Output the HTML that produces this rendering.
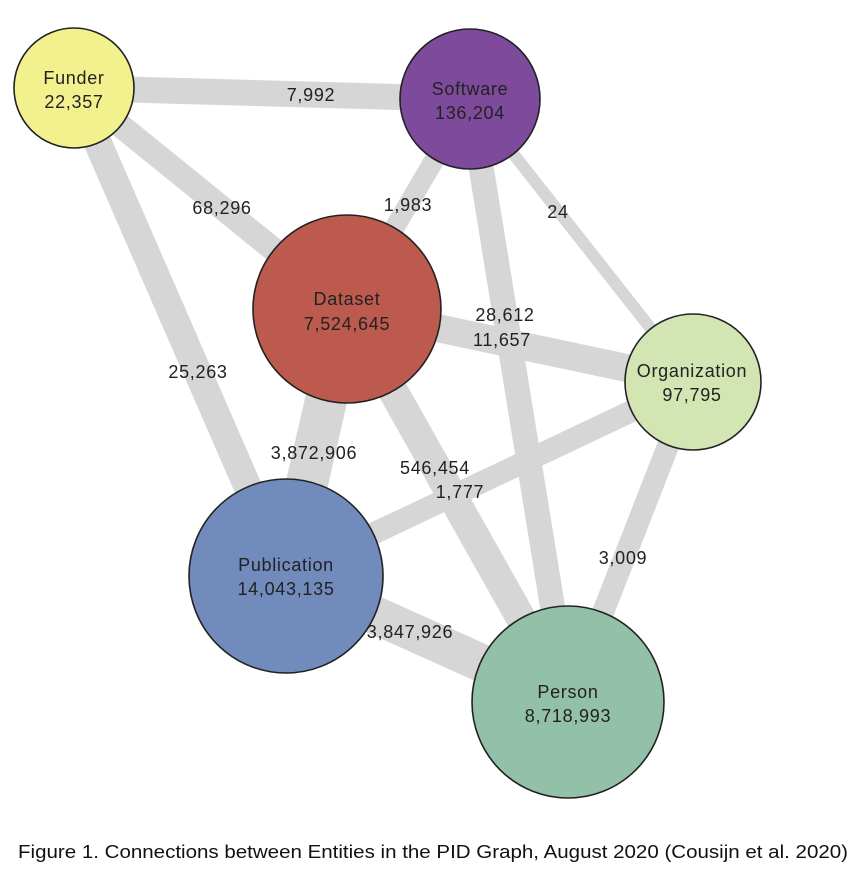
<!DOCTYPE html>
<html><head><meta charset="utf-8"><style>
html,body{margin:0;padding:0;background:#fff;}
svg{display:block;}
text{font-family:"Liberation Sans",Arial,sans-serif;fill:#222;}
</style></head><body>
<svg width="868" height="884" viewBox="0 0 868 884" xmlns="http://www.w3.org/2000/svg">
<g stroke="#d6d6d6" stroke-linecap="butt" fill="none">
<line x1="74" y1="88" x2="470" y2="99" stroke-width="26"/>
<line x1="74" y1="88" x2="347" y2="309" stroke-width="24"/>
<line x1="74" y1="88" x2="286" y2="575" stroke-width="28"/>
<line x1="470" y1="99" x2="347" y2="309" stroke-width="20"/>
<line x1="470" y1="99" x2="568" y2="702" stroke-width="25"/>
<line x1="470" y1="99" x2="693" y2="382" stroke-width="12"/>
<line x1="347" y1="309" x2="693" y2="382" stroke-width="28"/>
<line x1="347" y1="309" x2="286" y2="575" stroke-width="42"/>
<line x1="347" y1="309" x2="568" y2="702" stroke-width="30"/>
<line x1="693" y1="382" x2="286" y2="575" stroke-width="22"/>
<line x1="693" y1="382" x2="568" y2="702" stroke-width="22"/>
<line x1="286" y1="575" x2="568" y2="702" stroke-width="38"/>
</g>
<g stroke="#222" stroke-width="1.6">
<circle cx="74" cy="88" r="60" fill="#f3f08e"/>
<circle cx="470" cy="99" r="70" fill="#7e4a9b"/>
<circle cx="347" cy="309" r="94" fill="#bd5a4e"/>
<circle cx="693" cy="382" r="68" fill="#d2e5b2"/>
<circle cx="286" cy="576" r="97" fill="#728bbd"/>
<circle cx="568" cy="702" r="96" fill="#93c0a8"/>
</g>
<g font-size="18" text-anchor="middle" letter-spacing="0.7" style="fill:#1e1e1e">
<text x="74" y="84">Funder</text><text x="74" y="108">22,357</text>
<text x="470" y="95">Software</text><text x="470" y="119">136,204</text>
<text x="347" y="305">Dataset</text><text x="347" y="330">7,524,645</text>
<text x="692" y="377">Organization</text><text x="692" y="401">97,795</text>
<text x="286" y="571">Publication</text><text x="286" y="595">14,043,135</text>
<text x="568" y="698">Person</text><text x="568" y="722">8,718,993</text>
<text x="311" y="101">7,992</text>
<text x="222" y="214">68,296</text>
<text x="408" y="211">1,983</text>
<text x="558" y="218">24</text>
<text x="505" y="321">28,612</text>
<text x="502" y="346">11,657</text>
<text x="198" y="378">25,263</text>
<text x="314" y="459">3,872,906</text>
<text x="435" y="474">546,454</text>
<text x="460" y="498">1,777</text>
<text x="623" y="564">3,009</text>
<text x="410" y="638">3,847,926</text>
</g>
<text x="18" y="858" font-size="18" textLength="830" lengthAdjust="spacingAndGlyphs" style="fill:#111">Figure 1. Connections between Entities in the PID Graph, August 2020 (Cousijn et al. 2020)</text>
</svg>
</body></html>
